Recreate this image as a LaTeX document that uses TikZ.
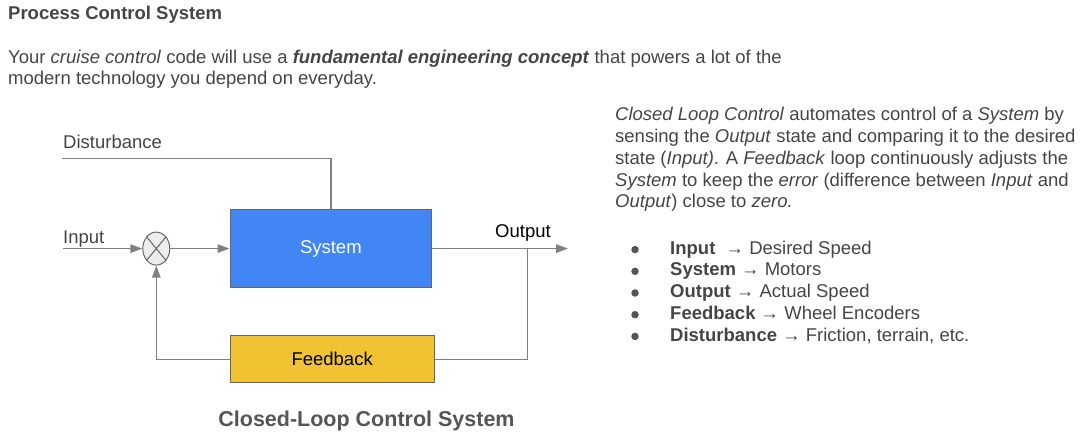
\documentclass[tikz,border=0pt]{standalone}
\usepackage{fontspec}
\setmainfont{Liberation Sans}
\usetikzlibrary{shapes.geometric,arrows.meta}
\definecolor{txt}{HTML}{454545}
\definecolor{ln}{HTML}{808080}
\definecolor{bd}{HTML}{666666}
\definecolor{sysblue}{HTML}{4285F4}
\definecolor{fbyel}{HTML}{F1C232}
\definecolor{capc}{HTML}{555555}
\tikzset{
  base/.style={font=\fontsize{18.5}{21.7}\selectfont, text=txt, inner sep=0pt, anchor=base west},
  blockbox/.style={draw=bd, line width=1pt, inner sep=0pt, font=\fontsize{18.5}{21.7}\selectfont},
  wire/.style={draw=ln, line width=1.4pt},
  arr/.style={wire, -{Triangle[length=12pt,width=8.5pt]}},
  bul/.style={circle, fill=capc, inner sep=0pt, minimum size=7.5pt},
}
\begin{document}
\begin{tikzpicture}[x=1pt,y=-1pt]
\useasboundingbox (0,0) rectangle (1085,435);
% heading
\node[base, font=\fontsize{18.5}{21.7}\selectfont\bfseries, text=txt] (title) at (8,20) {Process Control System};
\node[base] (p1) at (8,63.5) {Your \textit{cruise control} code will use a \textbf{\textit{fundamental engineering concept}} that powers a lot of the};
\node[base] (p2) at (8,85) {modern technology you depend on everyday.};
% diagram
\node[blockbox, fill=sysblue, text=white, minimum width=201.7pt, minimum height=77.7pt] (sys) at (330.85,248.85) {System};
\node[blockbox, fill=fbyel, text=black, minimum width=204.3pt, minimum height=47.3pt] (fb) at (332.15,359.35) {Feedback};
\node[ellipse, draw=bd, line width=1pt, fill=black!7, minimum width=27pt, minimum height=33pt, inner sep=0pt] (sum) at (156.3,248.6) {};
\draw[draw=bd, line width=1pt] (sum.north east) -- (sum.south west) (sum.north west) -- (sum.south east);
\node[base] (dlab) at (63,149) {Disturbance};
\node[base] (ilab) at (63,243.5) {Input};
\node[base, text=black] (olab) at (495,238) {Output};
\coordinate (dst) at (62,158.3);
\coordinate (inp) at (63,248.6);
\coordinate (out) at (568,248.6);
\coordinate (tap) at (527.3,248.6);
\draw[wire] (dst) -| (sys.north);
\draw[arr] (inp) -- (sum.west);
\draw[arr] (sum.east) -- (sum.east -| sys.west);
\draw[arr] (sys.east |- out) -- (out);
\draw[wire] (tap) |- (fb.east);
\draw[arr] (fb.west) -| (sum.south);
\node[inner sep=0pt, anchor=base, font=\fontsize{21.5}{24}\selectfont\bfseries, text=capc] (cap) at (366.5,427) {Closed-Loop Control System};
% right text
\node[base] (r1) at (615,121) {\textit{Closed Loop Control} automates control of a \textit{System} by};
\node[base] (r2) at (615,142.7) {sensing the \textit{Output} state and comparing it to the desired};
\node[base] (r3) at (615,164.4) {state (\textit{Input)}. A \textit{Feedback} loop continuously adjusts the};
\node[base] (r4) at (615,186.1) {\textit{System} to keep the \textit{error} (difference between \textit{Input} and};
\node[base] (r5) at (615,207.8) {\textit{Output}) close to \textit{zero.}};
% bullets
\foreach \i/\t in {0/{\textbf{Input}\ \ → Desired Speed},1/{\textbf{System} → Motors},2/{\textbf{Output} → Actual Speed},3/{\textbf{Feedback} → Wheel Encoders},4/{\textbf{Disturbance} → Friction, terrain, etc.}}{
  \node[bul] (b\i) at (635,249.6+21.7*\i) {};
  \node[base] (t\i) at (670,254.3+21.7*\i) {\t};
}
\end{tikzpicture}
\end{document}
